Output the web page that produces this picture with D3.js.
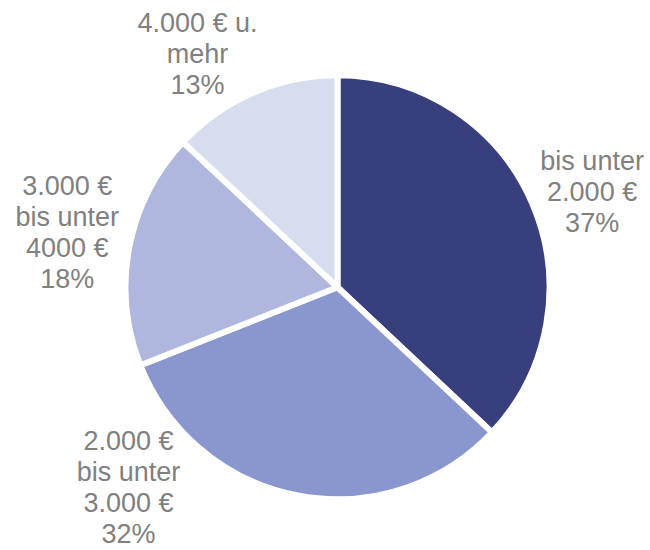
<!DOCTYPE html>
<html>
<head>
<meta charset="utf-8">
<script src="https://cdn.jsdelivr.net/npm/d3@7"></script>
<style>
	body { margin: 0; background: #fff; }
	svg { display: block; }
	.label { font-family: Arial, "Liberation Sans", Arimo, Helvetica, sans-serif; font-size: 27px; fill: #808080; }
</style>
</head>
<body>
<svg width="650" height="550"></svg>
<script>
// data
var categories = ["bis unter\n2.000 €", "2.000 €\nbis unter\n3.000 €", "3.000 €\nbis unter\n4000 €", "4.000 € u.\nmehr"];
var shares = [37, 32, 18, 13];
var colours = ["#373f7c", "#8a96ce", "#afb7de", "#d8dcef"];

// label nudges away from the plain centroid, like excel's best fit
var nudges = [[5, 12], [-158, -67], [-3, -4], [-32, 16]];

var svg = d3.select("svg"),
	cx = 337.5,
	cy = 287.2,
	radius = 212,
	labelRadius = 272,
	lineHeight = 31;

var g = svg.append("g")
	.attr("transform", "translate(" + cx + "," + cy + ")");

var pie = d3.pie().sort(null).value(function(d) { return d; });
var arcs = pie(shares);

var arc = d3.arc().innerRadius(0).outerRadius(radius);
var labelArc = d3.arc().innerRadius(labelRadius).outerRadius(labelRadius);

g.selectAll("path.slice")
	.data(arcs)
	.enter().append("path")
		.attr("class", "slice")
		.attr("d", arc)
		.attr("fill", function(d, i) { return colours[i]; })
		.attr("stroke", "#fff")
		.attr("stroke-width", 6)
		.attr("stroke-linejoin", "miter");

var labels = g.selectAll("text.label")
	.data(arcs)
	.enter().append("text")
		.attr("class", "label")
		.attr("text-anchor", "middle")
		.attr("transform", function(d, i) {
			var c = labelArc.centroid(d);
			return "translate(" + (c[0] + nudges[i][0]) + "," + (c[1] + nudges[i][1]) + ")";
		});

labels.each(function(d, i) {
	var lines = categories[i].split("\n").concat([shares[i] + "%"]);
	var n = lines.length;
	d3.select(this).selectAll("tspan")
		.data(lines)
		.enter().append("tspan")
			.attr("x", 0)
			.attr("y", function(l, j) { return (j - (n - 1) / 2) * lineHeight + 9.5; })
			.text(function(l) { return l; });
});
</script>
</body>
</html>
